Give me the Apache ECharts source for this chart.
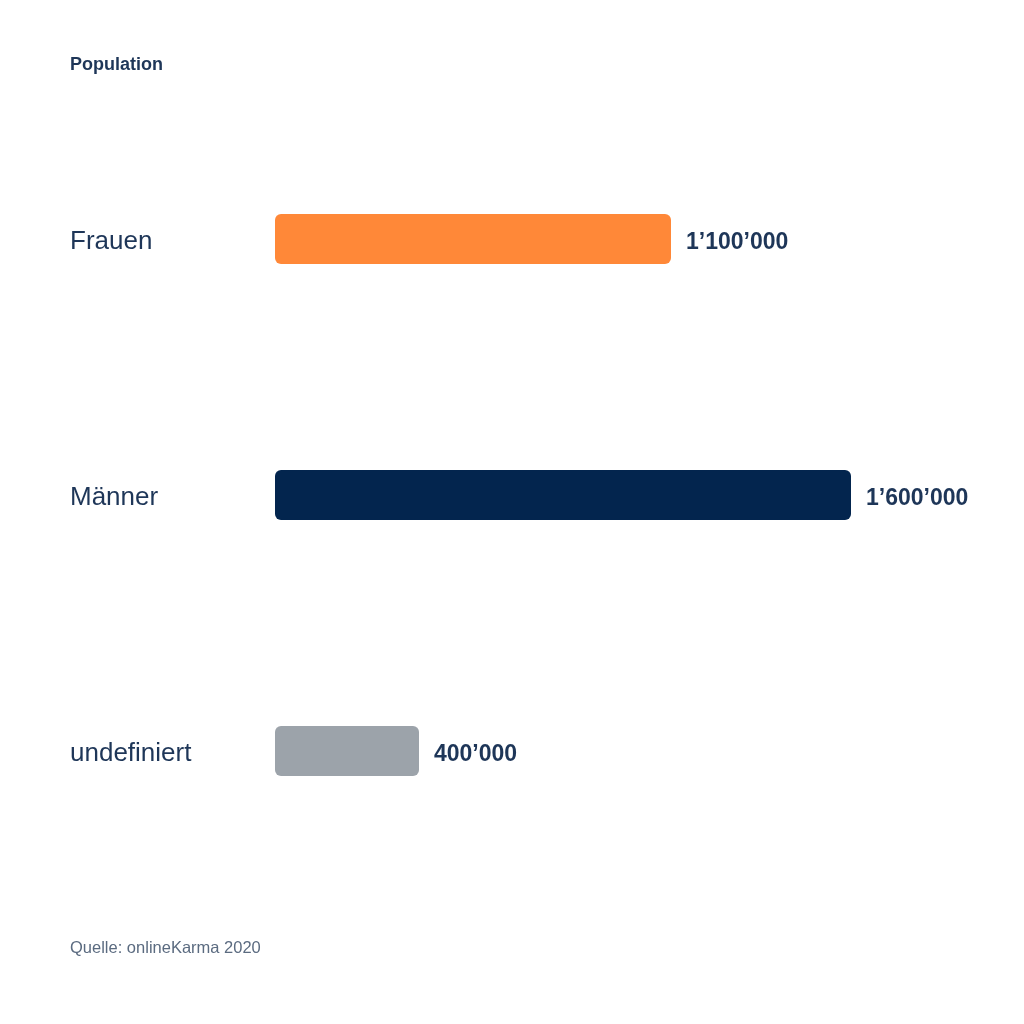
<!DOCTYPE html>
<html>
<head>
<meta charset="utf-8">
<script src="https://cdn.jsdelivr.net/npm/echarts@6/dist/echarts.min.js"></script>
<style>html,body{margin:0;padding:0;background:#fff}#c{width:1024px;height:1024px}</style>
</head>
<body>
<div id="c"></div>
<script>
const categories = ['Frauen', 'Männer', 'undefiniert'];
const values = [1100000, 1600000, 400000];
const barColors = ['#FF8838', '#03254E', '#9CA3AA'];

function fmt(v) {
  return String(v).replace(/\B(?=(\d{3})+(?!\d))/g, '\u2019');
}
const FONT = "'Liberation Sans', Helvetica, Arial, sans-serif";

const chart = echarts.init(document.getElementById('c'));
chart.setOption({
  backgroundColor: '#ffffff',
  animation: false,
  title: [{
    text: 'Population',
    left: 70, top: 56, padding: 0,
    textStyle: { fontFamily: FONT, fontSize: 18, fontWeight: 'bold', color: '#1e3658' }
  }, {
    text: 'Quelle: onlineKarma 2020',
    left: 70, top: 940, padding: 0,
    textStyle: { fontFamily: FONT, fontSize: 16.5, fontWeight: 'normal', color: '#5b6b80' }
  }],
  grid: { left: 275, right: 29, top: 111, bottom: 145, containLabel: false },
  xAxis: {
    type: 'value', min: 0, max: 2000000,
    show: false
  },
  yAxis: {
    type: 'category', data: categories, inverse: true,
    axisLine: { show: false }, axisTick: { show: false }, splitLine: { show: false },
    axisLabel: {
      align: 'left', margin: 205, verticalAlign: 'top', lineHeight: 6,
      fontFamily: FONT, fontSize: 26, color: '#1e3658'
    }
  },
  series: [{
    type: 'bar',
    barWidth: 50,
    data: values.map((v, i) => ({ value: v, itemStyle: { color: barColors[i] } })),
    itemStyle: { borderRadius: 6 },
    label: {
      show: true, position: 'right', distance: 15, offset: [0, 4],
      formatter: p => fmt(p.value),
      fontFamily: FONT, fontSize: 23, fontWeight: 'bold', color: '#1e3658'
    }
  }]
});
</script>
</body>
</html>
